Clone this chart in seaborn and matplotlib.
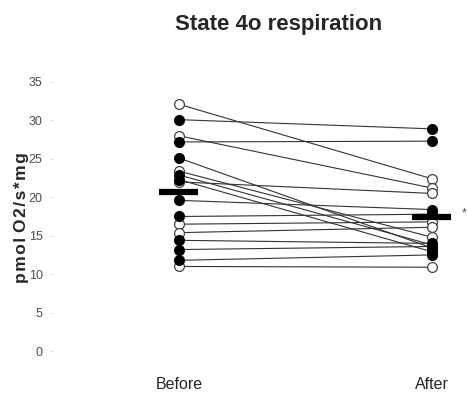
import numpy as np
import pandas as pd
import matplotlib
matplotlib.use('Agg')
import matplotlib.pyplot as plt
import seaborn as sns

# values (pmol O2/s*mg)
filled_before = [30.1, 27.2, 25.1, 22.9, 22.3, 19.6, 17.5, 14.4, 13.2, 11.8]
filled_after = [28.9, 27.3, 13.4, 13.8, 12.9, 18.4, 17.8, 14.0, 13.6, 12.5]
open_before = [32.1, 28.0, 23.4, 16.5, 15.4, 11.0, 22.0]
open_after = [22.4, 21.2, 14.8, 16.8, 16.1, 10.9, 20.5]
conditions = ['Before', 'After']
y_ticks = [0, 5, 10, 15, 20, 25, 30, 35]

rows = []
for grp, b, a in [('filled', filled_before, filled_after), ('open', open_before, open_after)]:
    for i, (vb, va) in enumerate(zip(b, a)):
        rows.append({'subject': f'{grp}{i}', 'group': grp, 'pos': 0, 'value': vb})
        rows.append({'subject': f'{grp}{i}', 'group': grp, 'pos': 1, 'value': va})
df = pd.DataFrame(rows)

sns.set_style('white')
plt.rcParams['font.family'] = ['Liberation Sans', 'DejaVu Sans']

fig = plt.figure(figsize=(4.67, 3.94), dpi=100)
ax = fig.add_axes([53/467, 1 - 360/394, (460 - 53)/467, (360 - 70)/394])

# connecting lines
sns.lineplot(data=df, x='pos', y='value', units='subject', estimator=None,
             color='0.2', linewidth=0.8, ax=ax, legend=False)

# markers
sns.scatterplot(data=df[df.group == 'open'], x='pos', y='value', s=50,
                facecolor='white', edgecolor='0.25', linewidth=0.9, ax=ax, zorder=3)
sns.scatterplot(data=df[df.group == 'filled'], x='pos', y='value', s=50,
                color='black', edgecolor='black', linewidth=0.9, ax=ax, zorder=4)

# mean bars
means = df.groupby('pos')['value'].mean()
for p, m in means.items():
    ax.hlines(m, p - 0.08, p + 0.075, color='black', linewidth=4.5, zorder=5)

ax.text(1.125, 17.9, '*', fontsize=9, ha='center', va='center', color='0.3')

ax.set_xlim(-0.498, 1.11)
ax.set_ylim(-1.17, 36.56)
ax.set_xticks([0, 1])
ax.set_xticklabels(conditions, fontsize=11.5)
ax.set_yticks(y_ticks)
ax.set_yticklabels([str(t) for t in y_ticks], fontsize=9, color='0.3')
ax.tick_params(axis='x', length=0, pad=12)
ax.tick_params(axis='y', length=1.5, color='0.8', pad=6, left=True)
for s in ax.spines.values():
    s.set_visible(False)
ax.set_xlabel('')
ylab = '\u200a'.join('pmol') + ' ' + '\u200a'.join('O2/s*mg')
ax.set_ylabel(ylab, fontsize=12.5, fontweight='bold', labelpad=2)
ax.yaxis.set_label_coords(-0.058, 0.49)

fig.text(0.596, 0.937, 'State 4o respiration', fontsize=16, fontweight='bold',
         ha='center', va='center')

fig.savefig('out.png', dpi=100)
